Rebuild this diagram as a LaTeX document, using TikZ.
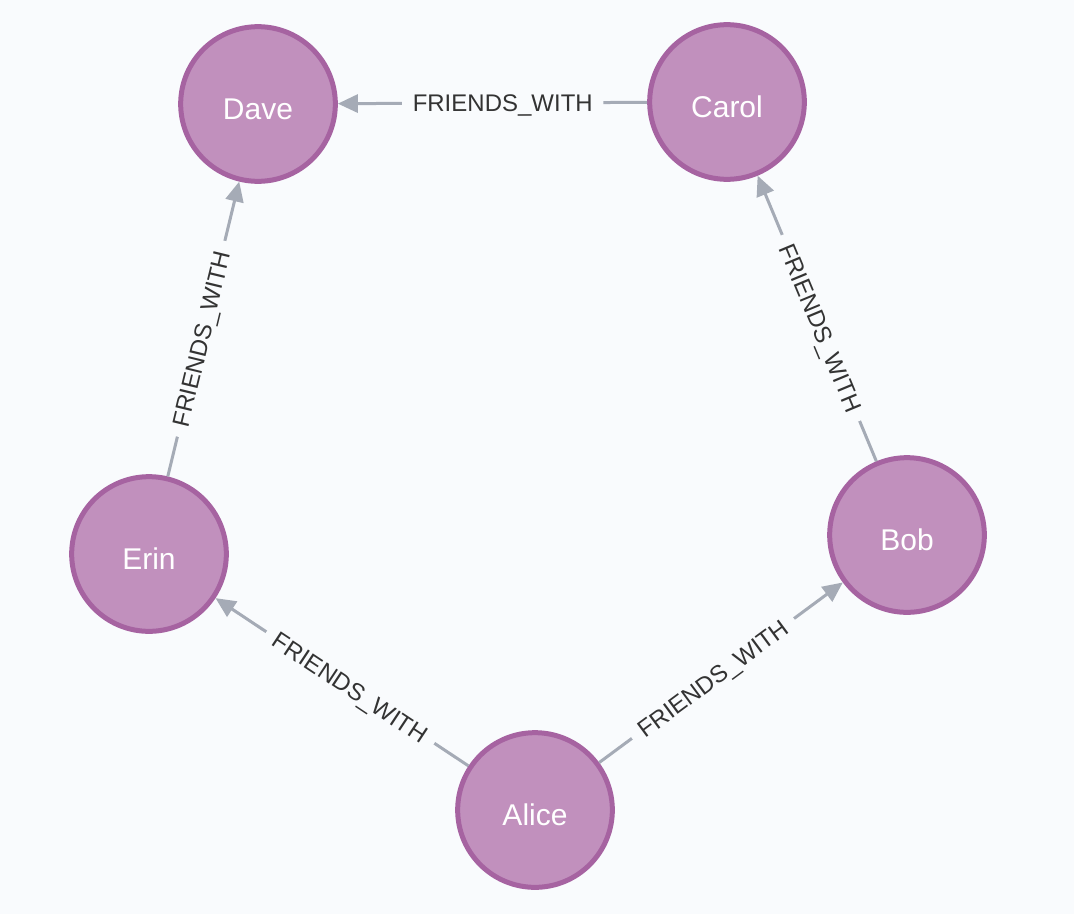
\documentclass[tikz,border=0pt]{standalone}
\usepackage{fontspec}
\setmainfont{Liberation Sans}
\usetikzlibrary{arrows.meta}
\definecolor{bg}{RGB}{249,251,253}
\definecolor{nodefill}{RGB}{193,144,189}
\definecolor{nodeborder}{RGB}{166,99,161}
\definecolor{edgecol}{RGB}{165,171,182}
\definecolor{labelcol}{RGB}{51,51,51}
\begin{document}
\begin{tikzpicture}[x=0.75pt,y=-0.75pt,
  person/.style={circle, draw=nodeborder, fill=nodefill, line width=3.75pt,
    minimum size=116pt, inner sep=0pt, text=white,
    font=\fontsize{22.5}{27}\selectfont, text height=23.6pt, text depth=0pt},
  rel/.style={draw=edgecol, line width=2.25pt, -{Triangle[length=15pt,width=13.5pt]}},
  rlabel/.style={pos=0.467, sloped, fill=bg, text=labelcol,
    font=\fontsize{18}{22}\selectfont, inner xsep=8pt, inner ysep=2pt,
    text height=12.9pt, text depth=0pt}]
\path[fill=bg] (0,0) rectangle (1074,914);
\node[person] (dave)  at (258,104) {Dave};
\node[person] (carol) at (727,102) {Carol};
\node[person] (bob)   at (907,535) {Bob};
\node[person] (alice) at (535,810) {Alice};
\node[person] (erin)  at (149,554) {Erin};
\draw[rel] (carol) -- node[rlabel] {FRIENDS\_WITH} (dave);
\draw[rel] (erin)  -- node[rlabel] {FRIENDS\_WITH} (dave);
\draw[rel] (bob)   -- node[rlabel] {FRIENDS\_WITH} (carol);
\draw[rel] (alice) -- node[rlabel] {FRIENDS\_WITH} (bob);
\draw[rel] (alice) -- node[rlabel] {FRIENDS\_WITH} (erin);
\end{tikzpicture}
\end{document}
